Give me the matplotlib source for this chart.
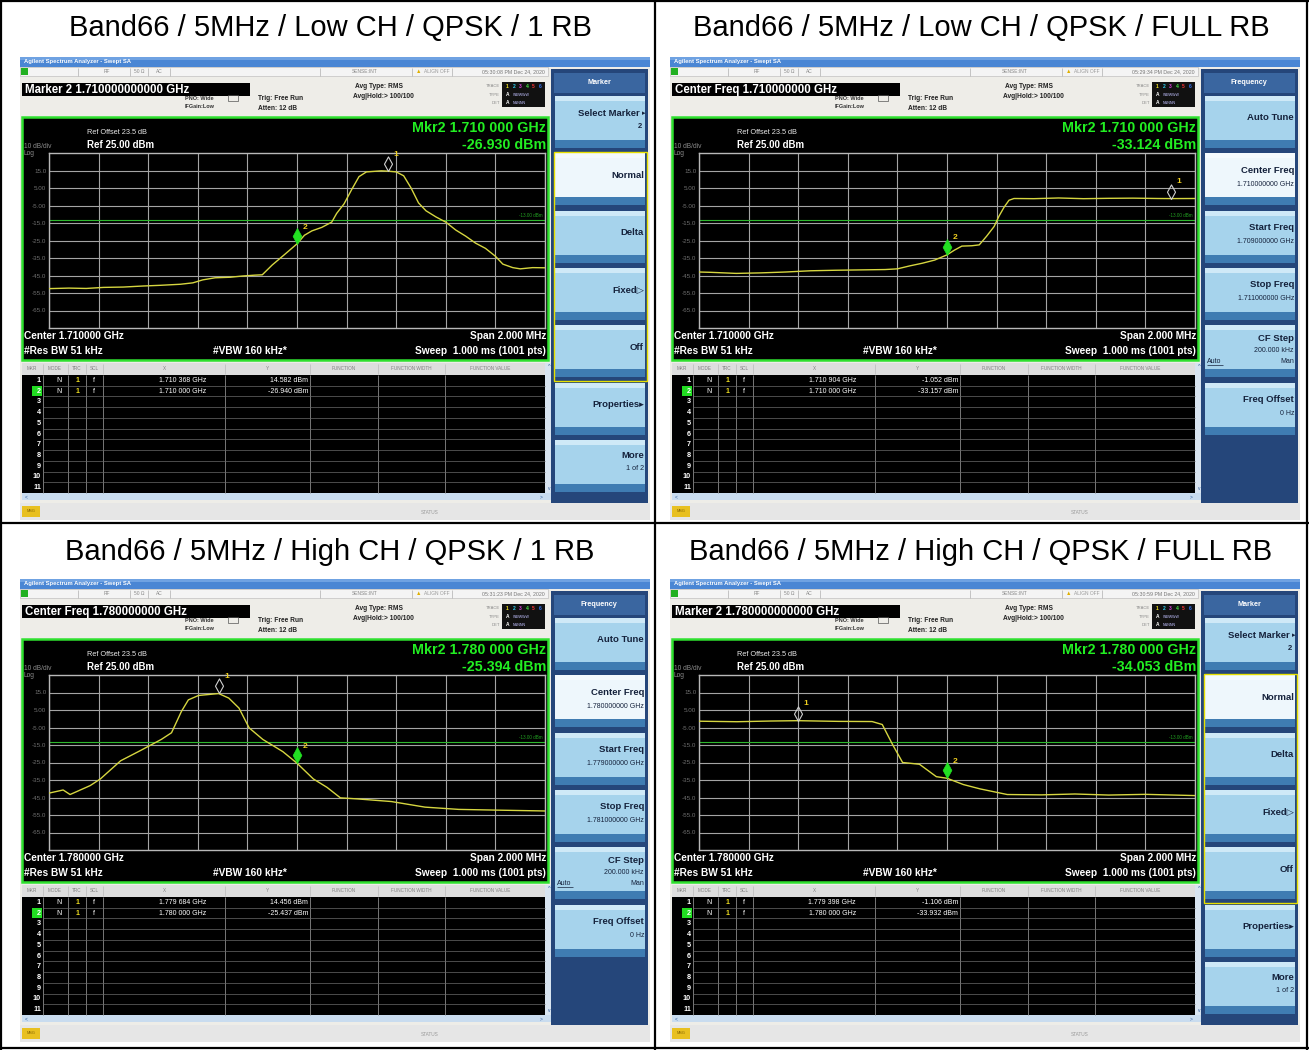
import matplotlib
matplotlib.use('Agg')
import matplotlib.pyplot as plt
from matplotlib.patches import Rectangle
from matplotlib.path import Path
import matplotlib.transforms as mtransforms

plt.rcParams['font.family'] = ['Liberation Sans', 'DejaVu Sans']

W, H = 1309, 1050

# ---------------- data ----------------
titles = ["Band66 / 5MHz / Low CH / QPSK / 1 RB",
          "Band66 / 5MHz / Low CH / QPSK / FULL RB",
          "Band66 / 5MHz / High CH / QPSK / 1 RB",
          "Band66 / 5MHz / High CH / QPSK / FULL RB"]

y_ticks = [15, 5, -5, -15, -25, -35, -45, -55, -65]
y_tick_labels = ["15.0", "5.00", "-5.00", "-15.0", "-25.0", "-35.0", "-45.0", "-55.0", "-65.0"]
x_grid = [-1.0, -0.8, -0.6, -0.4, -0.2, 0.0, 0.2, 0.4, 0.6, 0.8, 1.0]
limit_dbm = -13.0

# offset from center frequency (MHz) and level (dBm)
low_1rb_freq = [-1.00, -0.92, -0.85, -0.78, -0.70, -0.62, -0.55, -0.47, -0.42, -0.38, -0.33, -0.27,
                -0.22, -0.17, -0.14, -0.10, -0.05, 0.00, 0.03, 0.06, 0.10, 0.14, 0.16, 0.19, 0.22,
                0.25, 0.28, 0.31, 0.34, 0.368, 0.40, 0.43, 0.46, 0.49, 0.52, 0.56, 0.60, 0.64, 0.68,
                0.72, 0.76, 0.80, 0.83, 0.87, 0.90, 0.95, 1.00]
low_1rb_level = [-52.5, -52.2, -52.4, -51.8, -51.6, -51.0, -50.6, -50.0, -49.2, -47.5, -46.3, -46.0,
                 -45.3, -44.8, -44.6, -39.0, -33.0, -26.9, -22.0, -19.5, -17.5, -14.5, -9.5, -4.0, 4.0,
                 11.5, 14.2, 14.5, 14.8, 14.6, 14.2, 12.0, 5.0, -3.5, -8.0, -11.5, -14.5, -19.0, -22.5,
                 -26.5, -29.5, -34.0, -38.5, -40.5, -41.2, -40.5, -40.6]

low_full_freq = [-1.00, -0.95, -0.85, -0.75, -0.65, -0.55, -0.45, -0.35, -0.25, -0.20, -0.15, -0.10,
                 -0.05, 0.00, 0.03, 0.06, 0.10, 0.13, 0.16, 0.19, 0.21, 0.23, 0.25, 0.27, 0.35, 0.45,
                 0.55, 0.65, 0.75, 0.85, 0.904, 1.00]
low_full_level = [-43.0, -43.2, -43.8, -43.5, -43.0, -42.3, -42.0, -41.8, -41.6, -41.2, -39.5, -38.0,
                  -36.2, -33.2, -30.5, -28.2, -28.0, -27.5, -22.5, -17.0, -11.0, -6.0, -2.0, -1.0, -1.1,
                  -0.7, -1.1, -0.9, -0.8, -1.0, -1.05, -1.0]

high_1rb_freq = [-1.00, -0.943, -0.915, -0.834, -0.793, -0.711, -0.629, -0.547, -0.506, -0.466,
                 -0.438, -0.397, -0.316, -0.275, -0.234, -0.193, -0.138, -0.057, 0.00, 0.066, 0.121,
                 0.175, 0.243, 0.380, 0.516, 0.652, 0.80, 1.00]
high_1rb_level = [-42.5, -40.7, -43.3, -38.2, -34.4, -24.0, -18.0, -11.8, -8.0, 4.2,
                  10.8, 13.3, 14.4, 11.8, 6.1, -5.2, -11.8, -18.8, -25.4, -34.4, -39.2,
                  -45.2, -45.8, -47.3, -50.5, -51.8, -52.2, -52.7]

high_full_freq = [-1.00, -0.847, -0.711, -0.602, -0.438, -0.302, -0.261, -0.220, -0.179, -0.111,
                  -0.043, 0.00, 0.066, 0.134, 0.243, 0.380, 0.516, 0.652, 0.80, 1.00]
high_full_level = [-1.4, -1.7, -1.3, -1.1, -1.5, -1.6, -3.3, -14.6, -25.0, -26.0,
                   -33.1, -34.0, -37.6, -40.1, -43.3, -43.5, -43.0, -43.6, -43.2, -43.9]

mkr_freq = [[0.368, 0.0], [0.904, 0.0], [-0.316, 0.0], [-0.602, 0.0]]
mkr_level = [[14.582, -26.940], [-1.052, -33.157], [14.456, -25.437], [-1.106, -33.932]]
mkr_x_text = [["1.710 368 GHz", "1.710 000 GHz"], ["1.710 904 GHz", "1.710 000 GHz"],
              ["1.779 684 GHz", "1.780 000 GHz"], ["1.779 398 GHz", "1.780 000 GHz"]]
mkr_y_text = [["14.582 dBm", "-26.940 dBm"], ["-1.052 dBm", "-33.157 dBm"],
              ["14.456 dBm", "-25.437 dBm"], ["-1.106 dBm", "-33.932 dBm"]]
readout_freq = ["Mkr2 1.710 000 GHz", "Mkr2 1.710 000 GHz", "Mkr2 1.780 000 GHz", "Mkr2 1.780 000 GHz"]
readout_level = ["-26.930 dBm", "-33.124 dBm", "-25.394 dBm", "-34.053 dBm"]
header_text = ["Marker 2 1.710000000000 GHz", "Center Freq 1.710000000 GHz",
               "Center Freq 1.780000000 GHz", "Marker 2 1.780000000000 GHz"]
center_text = ["Center 1.710000 GHz", "Center 1.710000 GHz", "Center 1.780000 GHz", "Center 1.780000 GHz"]
timestamps = ["05:30:08 PM Dec 24, 2020", "05:29:34 PM Dec 24, 2020",
              "05:31:23 PM Dec 24, 2020", "05:30:59 PM Dec 24, 2020"]
menu_kind = ["marker", "freq", "freq", "marker"]
freq_center = ["1.710000000 GHz", "1.710000000 GHz", "1.780000000 GHz", "1.780000000 GHz"]
freq_start = ["1.709000000 GHz", "1.709000000 GHz", "1.779000000 GHz", "1.779000000 GHz"]
freq_stop = ["1.711000000 GHz", "1.711000000 GHz", "1.781000000 GHz", "1.781000000 GHz"]

traces_freq = [low_1rb_freq, low_full_freq, high_1rb_freq, high_full_freq]
traces_level = [low_1rb_level, low_full_level, high_1rb_level, high_full_level]

origins = [(20, 57), (670, 57), (20, 579), (670, 579)]
title_pos = [(330, 28), (981, 28), (330, 552), (981, 552)]

# ---------------- figure ----------------
fig = plt.figure(figsize=(W / 100, H / 100), dpi=100, facecolor='white')
bg = fig.add_axes([0, 0, 1, 1])
bg.set_xlim(0, W)
bg.set_ylim(H, 0)
bg.axis('off')

# table borders
lw_b = 1.6
for x in [1, 655, 1307]:
    bg.plot([x, x], [0, H], color='black', lw=lw_b, zorder=20)
for y in [1, 523, 1048]:
    bg.plot([0, W], [y, y], color='black', lw=lw_b, zorder=20)

for (tx, ty), t in zip(title_pos, titles):
    bg.text(tx, ty, t, fontsize=21, ha='center', va='center', color='black')

up_diamond = Path([(0, 0), (0.55, 1), (0, 2), (-0.55, 1), (0, 0)],
                  [Path.MOVETO, Path.LINETO, Path.LINETO, Path.LINETO, Path.CLOSEPOLY])


def draw_panel(k):
    ox, oy = origins[k]

    def R(x, y, w, h, fc, ec='none', lw=0.0, z=1):
        bg.add_patch(Rectangle((ox + x, oy + y), w, h, facecolor=fc, edgecolor=ec,
                               linewidth=lw, zorder=z))

    def T(x, y, s, size=5.0, color='black', ha='left', va='center', weight='normal', z=6, **kw):
        bg.text(ox + x, oy + y, s, fontsize=size, color=color, ha=ha, va=va,
                fontweight=weight, zorder=z, **kw)

    def L(x0, y0, x1, y1, color, lw=0.6, z=4):
        bg.plot([ox + x0, ox + x1], [oy + y0, oy + y1], color=color, lw=lw, zorder=z,
                solid_capstyle='butt')

    # base
    R(0, 0, 630, 463, '#eeede8')
    # title bar
    R(0, 0, 630, 10, '#4a86d4')
    R(0, 0, 630, 3, '#6fa2e2', z=1.1)
    T(4, 5, 'Agilent Spectrum Analyzer - Swept SA', size=4.2, color='white', weight='bold')
    # status row
    R(0, 10, 528, 9, '#f4f4f4', ec='#b4b4b4', lw=0.4, z=1.2)
    R(1, 11, 7, 7, '#22b022', z=1.3)
    for xs in [58, 110, 128, 150, 300, 392, 432]:
        L(xs, 10.5, xs, 18.5, '#b0b0b0', lw=0.5)
    T(84, 14.5, 'RF', size=3.5, color='#888888')
    T(119, 14.5, '50 Ω', size=3.5, color='#888888', ha='center')
    T(139, 14.5, 'AC', size=3.5, color='#888888', ha='center')
    T(345, 14.5, 'SENSE:INT', size=3.5, color='#888888', ha='center')
    T(396, 14.5, '▲', size=4, color='#e0b000')
    T(404, 14.5, 'ALIGN OFF', size=3.5, color='#999999')
    T(525, 14.5, timestamps[k], size=3.8, color='#777777', ha='right')

    # header box
    R(2, 26, 228, 13, 'black', z=1.5)
    T(5, 32.8, header_text[k], size=8.3, color='white', weight='bold')
    T(165, 41.5, 'PNO: Wide', size=4.0, weight='bold', color='#333333')
    R(208, 38, 10, 6, 'none', ec='#555555', lw=0.5, z=1.6)
    T(165, 50, 'IFGain:Low', size=4.0, weight='bold', color='#333333')
    T(238, 41, 'Trig: Free Run', size=4.8, weight='bold', color='#222222')
    T(238, 51, 'Atten: 12 dB', size=4.8, weight='bold', color='#222222')
    T(335, 30, 'Avg Type: RMS', size=4.8, weight='bold', color='#222222')
    T(333, 40, 'Avg|Hold:> 100/100', size=4.8, weight='bold', color='#222222')
    T(480, 29, 'TRACE', size=3.0, color='#888888', ha='right')
    T(480, 37.5, 'TYPE', size=3.0, color='#888888', ha='right')
    T(480, 46, 'DET', size=3.0, color='#888888', ha='right')
    R(482, 25, 43, 25, '#111111', z=1.5)
    tr_cols = ['#f0e020', '#30d0f0', '#e040e0', '#40e040', '#f03030', '#3070f0']
    for i, c in enumerate(tr_cols):
        T(486 + i * 6.5, 29, str(i + 1), size=3.6, color=c, weight='bold')
    T(486, 37.5, 'A', size=3.5, color='white', weight='bold')
    T(493, 37.5, 'WWWWW', size=2.6, color='#c0c0ff')
    T(486, 46, 'A', size=3.5, color='white', weight='bold')
    T(493, 46, 'NNNNN', size=2.6, color='#c0c0ff')

    # plot area
    R(2, 60, 526, 243, 'black', ec='#2fe02f', lw=1.8, z=1.5)
    T(67, 76, 'Ref Offset 23.5 dB', size=5.3, color='#e8e8e8')
    T(67, 88, 'Ref 25.00 dBm', size=7.0, color='white', weight='bold')
    T(4, 89, '10 dB/div', size=4.8, color='#8a8a8a')
    T(4, 96.5, 'Log', size=4.8, color='#8a8a8a')
    T(526, 71, readout_freq[k], size=10.3, color='#22ee22', weight='bold', ha='right')
    T(526, 88, readout_level[k], size=10.3, color='#22ee22', weight='bold', ha='right')
    T(4, 279, center_text[k], size=7.3, color='white', weight='bold')
    T(4, 294, '#Res BW 51 kHz', size=7.3, color='white', weight='bold')
    T(193, 294, '#VBW 160 kHz*', size=7.3, color='white', weight='bold')
    T(526, 279, 'Span 2.000 MHz', size=7.3, color='white', weight='bold', ha='right')
    T(526, 294, 'Sweep  1.000 ms (1001 pts)', size=7.3, color='white', weight='bold', ha='right')

    # marker table
    R(2, 306, 523, 12, '#dedede', z=1.5)
    R(2, 318, 523, 118, 'black', z=1.5)
    col_x = [23, 48, 66, 83, 205, 290, 358, 425]
    for cx in col_x:
        L(cx, 318, cx, 436, '#8a8a8a', lw=0.6)
        L(cx, 307, cx, 317, '#bbbbbb', lw=0.5)
    row_h = 118 / 11.0
    for i in range(1, 11):
        L(23, 318 + row_h * i, 525, 318 + row_h * i, '#6a6a6a', lw=0.5)
    hdr = [('MKR', 12), ('MODE', 35), ('TRC', 57), ('SCL', 74), ('X', 144), ('Y', 247),
           ('FUNCTION', 324), ('FUNCTION WIDTH', 391), ('FUNCTION VALUE', 470)]
    for s, hx in hdr:
        T(hx, 312, s, size=3.3, color='#808080', ha='center')
    for i in range(11):
        yc = 318 + row_h * (i + 0.5)
        if i == 1:
            R(12, 318 + row_h * i + 0.5, 10, row_h - 1, '#22dd22', z=1.7)
        T(21, yc, str(i + 1), size=5.2, color='white', weight='bold', ha='right')
    for i in range(2):
        yc = 318 + row_h * (i + 0.5)
        T(36, yc, 'N', size=5, color='white')
        T(56, yc, '1', size=5, color='#f0e020', weight='bold')
        T(73, yc, 'f', size=5, color='white')
        T(186, yc, mkr_x_text[k][i], size=5, color='white', ha='right')
        T(288, yc, mkr_y_text[k][i], size=5, color='white', ha='right')
    # scroll bars
    R(525, 306, 8, 130, '#d8e4f0', z=1.5)
    T(529, 310, '^', size=4, color='#3060a0', ha='center')
    T(529, 431, 'v', size=3.5, color='#3060a0', ha='center')
    R(2, 436, 531, 7, '#c9dcef', z=1.5)
    T(5, 439.5, '<', size=3.5, color='#3060a0')
    T(520, 439.5, '>', size=3.5, color='#3060a0')
    # status bar
    R(0, 446, 630, 17, '#e6e6e6', z=1.2)
    R(2, 449, 18, 11, '#e8c020', z=1.5)
    T(11, 454.5, 'MSG', size=2.8, color='#806000', ha='center')
    T(410, 455, 'STATUS', size=3.4, color='#999999', ha='center')

    # softkey menu
    R(531, 12, 97, 434, '#25467a', z=1.5)
    R(534, 16, 91, 20, '#3a66a0', z=1.6)
    title = 'Marker' if menu_kind[k] == 'marker' else 'Frequency'
    T(579, 26, title, size=5.2, color='white', weight='bold', ha='center')
    for i in range(7):
        y0 = 39 + 57.3 * i
        if menu_kind[k] == 'freq' and i == 6:
            continue
        sel = (i == 1)
        R(535, y0, 90, 52, '#eef7fc' if sel else '#a6d3ec', z=1.7)
        R(535, y0, 90, 5, '#f4fafe' if sel else '#cfe9f7', z=1.75)
        R(535, y0 + 44, 90, 8, '#3f7cb2', z=1.75)
    if menu_kind[k] == 'marker':
        R(533.5, 95, 93, 229, 'none', ec='#e8e000', lw=1.0, z=1.9)
        T(620, 39 + 18, 'Select Marker', size=6.8, color='#15223c', weight='bold', ha='right')
        T(625, 39 + 18, '▸', size=5, color='#15223c', ha='right')
        T(622, 39 + 31, '2', size=5.5, color='#15223c', weight='bold', ha='right')
        labels = ['Normal', 'Delta', 'Fixed▷', 'Off', 'Properties▸']
        for j, lab in enumerate(labels):
            T(624, 39 + 57.3 * (j + 1) + 22, lab, size=6.8, color='#15223c', weight='bold', ha='right')
        T(624, 39 + 57.3 * 6 + 16, 'More', size=6.8, color='#15223c', weight='bold', ha='right')
        T(624, 39 + 57.3 * 6 + 29, '1 of 2', size=5.2, color='#15223c', ha='right')
    else:
        T(624, 39 + 22, 'Auto Tune', size=6.8, color='#15223c', weight='bold', ha='right')
        pairs = [('Center Freq', freq_center[k]), ('Start Freq', freq_start[k]),
                 ('Stop Freq', freq_stop[k])]
        for j, (a, b) in enumerate(pairs):
            y0 = 39 + 57.3 * (j + 1)
            T(624, y0 + 17, a, size=6.8, color='#15223c', weight='bold', ha='right')
            T(624, y0 + 31, b, size=5.0, color='#15223c', ha='right')
        y0 = 39 + 57.3 * 4
        T(624, y0 + 13, 'CF Step', size=6.8, color='#15223c', weight='bold', ha='right')
        T(624, y0 + 25, '200.000 kHz', size=5.0, color='#15223c', ha='right')
        T(537, y0 + 36, 'Auto', size=5.0, color='#15223c', ha='left')
        L(537, y0 + 40, 553, y0 + 40, '#15223c', lw=0.5, z=7)
        T(624, y0 + 36, 'Man', size=5.0, color='#15223c', ha='right')
        y0 = 39 + 57.3 * 5
        T(624, y0 + 17, 'Freq Offset', size=6.8, color='#15223c', weight='bold', ha='right')
        T(624, y0 + 31, '0 Hz', size=5.0, color='#15223c', ha='right')

    # spectrum trace axes
    ax = fig.add_axes([(ox + 29) / W, 1 - (oy + 271) / H, 496 / W, 175 / H])
    ax.set_facecolor('black')
    ax.set_xlim(-1, 1)
    ax.set_ylim(-75, 25)
    ax.set_xticks(x_grid)
    ax.set_xticklabels([])
    ax.set_yticks(y_ticks)
    ax.set_yticklabels(y_tick_labels)
    ax.tick_params(length=0, labelsize=4.5, labelcolor='#707070', pad=2)
    ax.grid(True, color='#a4a4a4', lw=0.8)
    for s in ax.spines.values():
        s.set_color('#b8b8b8')
        s.set_linewidth(1.0)
    ax.axhline(limit_dbm, color='#2eb82e', lw=0.8, zorder=2)
    tr = mtransforms.blended_transform_factory(ax.transAxes, ax.transData)
    ax.text(0.995, limit_dbm + 0.8, '-13.00 dBm', transform=tr, ha='right', va='bottom',
            fontsize=3.3, color='#22a022')
    ax.plot(traces_freq[k], traces_level[k], color='#d6d640', lw=1.0, zorder=3)
    # markers
    f1, f2 = mkr_freq[k]
    l1, l2 = mkr_level[k]
    ax.plot([f1], [l1], marker=up_diamond, ms=21, mfc='none', mec='#d0d0d0', mew=0.8,
            ls='none', clip_on=False, zorder=5)
    ax.plot([f2], [l2], marker=up_diamond, ms=23, mfc='#22e022', mec='#22e022', mew=0.5,
            ls='none', clip_on=False, zorder=5)
    ax.annotate('1', (f1, l1), xytext=(4, 11), textcoords='offset points', fontsize=6,
                color='#f0d020', weight='bold', annotation_clip=False)
    ax.annotate('2', (f2, l2), xytext=(4, 11), textcoords='offset points', fontsize=6,
                color='#f0d020', weight='bold', annotation_clip=False)


for k in range(4):
    draw_panel(k)

fig.savefig('out.png', dpi=100, facecolor='white')
